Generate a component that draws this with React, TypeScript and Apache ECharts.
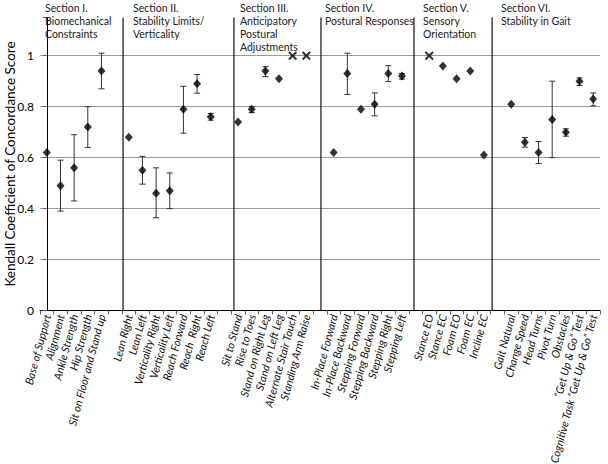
import React, { useEffect, useRef } from "react";
import * as echarts from "echarts";

// Categories ('' = gap slot that separates sections)
const categories: string[] = [
  "Base of Support", "Alignment", "Ankle Strength", "Hip Strength", "Sit on Floor and Stand up",
  "",
  "Lean Right", "Lean Left", "Verticality Right", "Verticality Left", "Reach Forward", "Reach  Right", "Reach Left",
  "",
  "Sit to Stand", "Rise to Toes", "Stand on Right Leg", "Stand on Left Leg", "Alternate Stair Touch", "Standing Arm Raise",
  "",
  "In-Place Forward", "In-Place Backward", "Stepping Forward", "Stepping Backward", "Stepping Right", "Stepping Left",
  "",
  "Stance EO", "Stance EC", "Foam EO", "Foam EC", "Incline EC",
  "",
  "Gait Natural", "Change Speed", "Head Turns", "Pivot Turn", "Obstacles",
  "\u201CGet Up & Go\u201D Test", "Cognitive Task \u201CGet Up & Go\u201D Test",
];

const scores: (number | null)[] = [
  0.62, 0.49, 0.56, 0.72, 0.94,
  null,
  0.68, 0.55, 0.46, 0.47, 0.79, 0.89, 0.76,
  null,
  0.74, 0.79, 0.94, 0.91, 1.0, 1.0,
  null,
  0.62, 0.93, 0.79, 0.81, 0.93, 0.92,
  null,
  1.0, 0.96, 0.91, 0.94, 0.61,
  null,
  0.81, 0.66, 0.62, 0.75, 0.70, 0.90, 0.83,
];

const lower: (number | null)[] = [
  null, 0.39, 0.43, 0.64, 0.87,
  null,
  null, 0.496, 0.364, 0.40, 0.696, 0.853, 0.747,
  null,
  null, 0.777, 0.918, null, null, null,
  null,
  null, 0.848, null, 0.764, 0.899, 0.908,
  null,
  null, null, null, null, null,
  null,
  null, 0.641, 0.577, 0.60, 0.684, 0.883, 0.803,
];

const upper: (number | null)[] = [
  null, 0.59, 0.69, 0.80, 1.01,
  null,
  null, 0.605, 0.56, 0.54, 0.88, 0.926, 0.773,
  null,
  null, 0.80, 0.957, null, null, null,
  null,
  null, 1.01, null, 0.854, 0.961, 0.93,
  null,
  null, null, null, null, null,
  null,
  null, 0.679, 0.663, 0.90, 0.713, 0.913, 0.854,
];

const yTicks: number[] = [0, 0.2, 0.4, 0.6, 0.8, 1];

const sectionTitles: string[] = [
  "Section I.\nBiomechanical\nConstraints",
  "Section II.\nStability Limits/\nVerticality",
  "Section III.\nAnticipatory\nPostural\nAdjustments",
  "Section IV.\nPostural Responses",
  "Section V.\nSensory\nOrientation",
  "Section VI.\nStability in Gait",
];

// positions (in category slot units) of the vertical section separators
const dividerSlots: number[] = [5.58, 13.7, 20.07, 26.88, 32.6];

const FONT = "Lato, 'Open Sans', sans-serif";

export default function App() {
  const ref = useRef<HTMLDivElement>(null);

  useEffect(() => {
    if (!ref.current) return;
    const chart = echarts.init(ref.current, null, { renderer: "svg" });

    const yMax = 1.15;
    const diamondData = scores.map((v, i) => (v !== null && v < 1 ? [i, v] : [i, null]));
    const crossData = scores.map((v, i) => (v !== null && v >= 1 ? [i, v] : [i, null]));
    const errData: number[][] = [];
    scores.forEach((v, i) => {
      if (lower[i] !== null && upper[i] !== null) errData.push([i, lower[i] as number, upper[i] as number]);
    });

    const headerX = [45, 133, 240, 325, 423, 501];

    chart.setOption({
      animation: false,
      backgroundColor: "#fff",
      textStyle: { fontFamily: FONT },
      grid: {
        left: 40,
        right: 8,
        top: 17.5,
        bottom: 153.5,
        containLabel: false,
        outerBoundsMode: "none",
      },
      xAxis: [
        {
          type: "category",
          data: categories,
          boundaryGap: true,
          axisLine: { lineStyle: { color: "#000", width: 1 } },
          axisTick: { show: true, length: 4, lineStyle: { color: "#666" } },
          axisLabel: {
            interval: 0,
            rotate: 75,
            fontSize: 11,
            fontStyle: "italic",
            fontFamily: FONT,
            color: "#111",
            margin: 4,
          },
          splitLine: { show: false },
        },
        {
          type: "value",
          min: -0.5,
          max: categories.length - 0.5,
          show: false,
          splitLine: { show: false },
        },
      ],
      yAxis: {
        type: "value",
        min: 0,
        max: yMax,
        interval: 0.2,
        name: "Kendall Coefficient of Concordance Score",
        nameLocation: "middle",
        nameGap: 23,
        nameMoveOverlap: false,
        nameTextStyle: { fontSize: 13.5, color: "#000", fontFamily: FONT },
        axisLine: { show: true, lineStyle: { color: "#000", width: 1 } },
        axisTick: { show: true, length: 4, lineStyle: { color: "#666" } },
        axisLabel: {
          fontSize: 12,
          color: "#000",
          fontFamily: FONT,
          margin: 6,
          formatter: (v: number) => {
            const t = yTicks.find((y) => Math.abs(y - v) < 1e-6);
            return t === undefined ? "" : String(t);
          },
        },
        splitLine: {
          show: true,
          lineStyle: {
            color: ["#999", "#999", "#999", "#999", "#999", "#999", "transparent"],
            width: 1,
          },
        },
      },
      series: [
        {
          type: "custom",
          xAxisIndex: 1,
          data: dividerSlots.map((x) => [x, 0]),
          renderItem: (params: any, api: any) => {
            const x = api.value(0);
            const p0 = api.coord([x, 0]);
            const p1 = api.coord([x, yMax]);
            return {
              type: "line",
              shape: { x1: p0[0], y1: p0[1], x2: p1[0], y2: p1[1] },
              style: { stroke: "#111", lineWidth: 1.2 },
            };
          },
          z: 1,
        },
        {
          type: "custom",
          data: errData,
          renderItem: (params: any, api: any) => {
            const i = api.value(0);
            const lo = api.coord([i, api.value(1)]);
            const hi = api.coord([i, api.value(2)]);
            const hw = 3;
            const st = { stroke: "#333", lineWidth: 1 };
            return {
              type: "group",
              children: [
                { type: "line", shape: { x1: lo[0], y1: lo[1], x2: hi[0], y2: hi[1] }, style: st },
                { type: "line", shape: { x1: lo[0] - hw, y1: lo[1], x2: lo[0] + hw, y2: lo[1] }, style: st },
                { type: "line", shape: { x1: hi[0] - hw, y1: hi[1], x2: hi[0] + hw, y2: hi[1] }, style: st },
              ],
            };
          },
          z: 2,
        },
        {
          type: "scatter",
          data: diamondData,
          symbol: "diamond",
          symbolSize: [8, 9],
          itemStyle: { color: "#000" },
          z: 3,
        },
        {
          type: "scatter",
          data: crossData,
          symbol:
            "path://M0,1.6L1.6,0L5,3.4L8.4,0L10,1.6L6.6,5L10,8.4L8.4,10L5,6.6L1.6,10L0,8.4L3.4,5Z",
          symbolSize: [9, 9],
          itemStyle: { color: "#000" },
          z: 3,
        },
      ],
      graphic: sectionTitles.map((t, k) => ({
        type: "text",
        left: headerX[k],
        top: 2,
        style: {
          text: t,
          fontSize: 10.5,
          lineHeight: 12.8,
          fontFamily: FONT,
          fill: "#222",
        },
        z: 10,
      })),
    });

    return () => chart.dispose();
  }, []);

  return (
    <div
      ref={ref}
      style={{ position: "fixed", left: 0, top: 0, width: 608, height: 464 }}
    />
  );
}
